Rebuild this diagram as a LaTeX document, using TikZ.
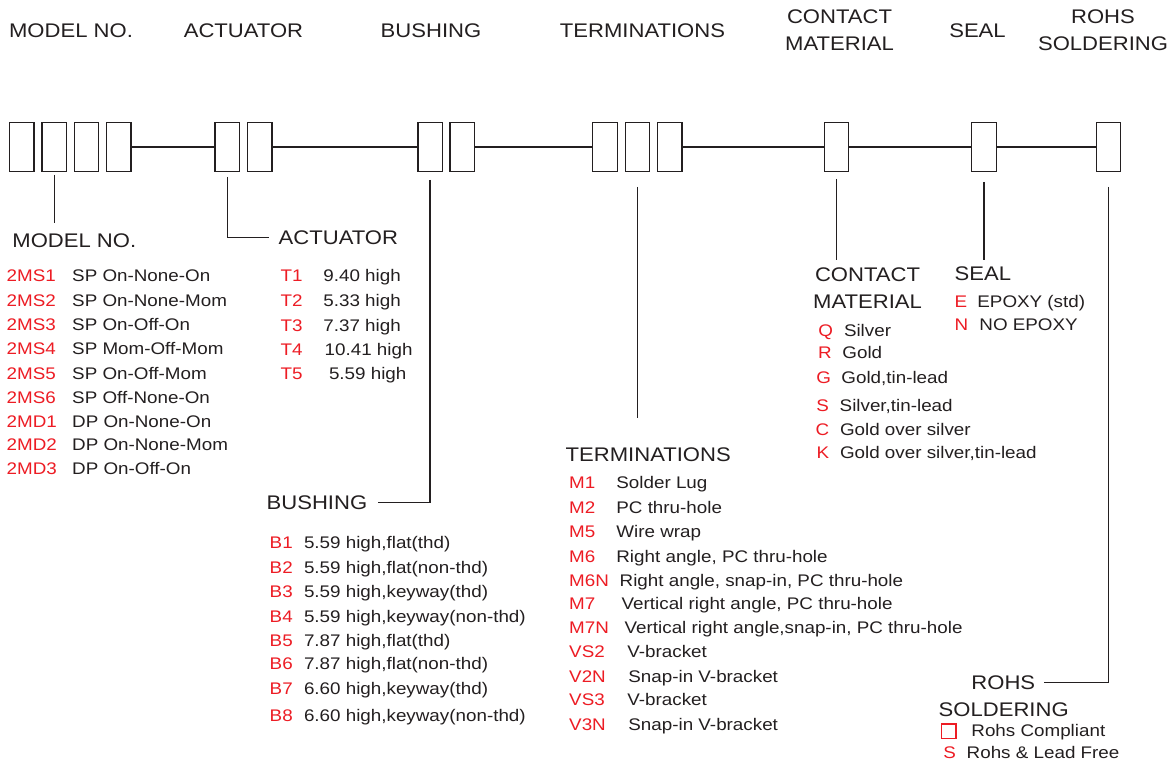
\documentclass[tikz,border=0pt]{standalone}
\usepackage{fontspec}
\setmainfont{Liberation Sans}[FakeStretch=1.12]
\definecolor{ink}{RGB}{35,31,32}
\definecolor{codered}{RGB}{237,28,36}
\tikzset{
  cell/.style={draw, minimum width=24.5pt, minimum height=48.5pt, inner sep=0},
  head/.style={font=\fontsize{19.7pt}{26.6pt}\selectfont, align=center, inner sep=0},
  lbl/.style={font=\fontsize{19.7pt}{26.6pt}\selectfont, anchor=base west, inner sep=0},
  code/.style={font=\fontsize{16.8pt}{20pt}\selectfont, text=codered, anchor=base west, inner sep=0},
  desc/.style={font=\fontsize{16.8pt}{20pt}\selectfont, anchor=base west, inner sep=0}
}
\begin{document}
\begin{tikzpicture}[x=1pt,y=-1pt,line width=1.4pt,color=ink]
  \path[fill=white,use as bounding box] (0,0) rectangle (1174,762);
  % headings
  \node[head] (modelhd) at (71,31) {MODEL NO.};
  \node[head] (acthd) at (243.5,31) {ACTUATOR};
  \node[head] (bushhd) at (431,31) {BUSHING};
  \node[head] (termhd) at (642.5,31) {TERMINATIONS};
  \node[head] (conthd) at (839.5,30) {CONTACT\\MATERIAL};
  \node[head] (sealhd) at (977.5,31) {SEAL};
  \node[head] (rohshd) at (1103,30) {ROHS\\SOLDERING};

  % boxes
  \foreach \x [count=\i] in {21.8,54.2,86.5,118.9}
    \node[cell] (m\i) at (\x,147) {};
  \foreach \x [count=\i] in {227.2,259.7}
    \node[cell] (a\i) at (\x,147) {};
  \foreach \x [count=\i] in {430.1,462.1}
    \node[cell] (b\i) at (\x,147) {};
  \foreach \x [count=\i] in {605,637.5,669.8}
    \node[cell] (t\i) at (\x,147) {};
  \node[cell] (c1) at (836.5,147) {};
  \node[cell] (s1) at (984,147) {};
  \node[cell] (r1) at (1108.5,147) {};
  \draw (m4) -- (a1) (a2) -- (b1) (b2) -- (t1) (t3) -- (c1) (c1) -- (s1) (s1) -- (r1);

  % labels and leaders
  \node[lbl] (modellbl) at (11.7,247) {MODEL NO.};
  \coordinate (mend) at (0,223);
  \draw ([yshift=-3pt]m2.south) -- (m2.south |- mend);

  \node[lbl] (actlbl) at (278,244) {ACTUATOR};
  \draw ([yshift=-5pt]a1.south) |- ([xshift=-9pt]actlbl.west);

  \node[lbl] (bushlbl) at (266,509) {BUSHING};
  \draw ([yshift=-8pt]b1.south) |- ([xshift=10pt]bushlbl.east);

  \node[lbl] (termlbl) at (565,461) {TERMINATIONS};
  \coordinate (tend) at (0,418);
  \draw ([yshift=-15pt]t2.south) -- (t2.south |- tend);

  \node[lbl,anchor=center,align=center] (contlbl) at (867.5,288.3) {CONTACT\\MATERIAL};
  \coordinate (cend) at (0,260);
  \draw ([yshift=-7pt]c1.south) -- (c1.south |- cend);

  \node[lbl] (seallbl) at (954,280) {SEAL};
  \draw ([yshift=-10pt]s1.south) -- (s1.south |- cend);

  \node[lbl,anchor=center] (rohslbl) at (1003.3,682.7) {ROHS};
  \node[lbl,anchor=center] (soldlbl) at (1003.7,710) {SOLDERING};
  \draw ([yshift=-15pt]r1.south) |- ([xshift=8pt]rohslbl.east);

  % model no. list
  \foreach \key/\txt/\y [count=\i] in {2MS1/SP On-None-On/275, 2MS2/SP On-None-Mom/300,
      2MS3/SP On-Off-On/324, 2MS4/SP Mom-Off-Mom/348, 2MS5/SP On-Off-Mom/373,
      2MS6/SP Off-None-On/397, 2MD1/DP On-None-On/421, 2MD2/DP On-None-Mom/444,
      2MD3/DP On-Off-On/468}{
    \node[code] (mcode\i) at (6,\y+6) {\key};
    \node[desc] (mdesc\i) at (71.5,\y+6) {\txt};
  }

  % actuator list
  \foreach \key/\txt/\y/\dx [count=\i] in {T1/9.40 high/275/322.7, T2/5.33 high/300/322.7,
      T3/7.37 high/325/322.7, T4/10.41 high/349/324, T5/5.59 high/373/328.3}{
    \node[code] (acode\i) at (280,\y+6) {\key};
    \node[desc] (adesc\i) at (\dx,\y+6) {\txt};
  }

  % bushing list
  \foreach \key/\txt/\y [count=\i] in {B1/{5.59 high,flat(thd)}/542.7,
      B2/{5.59 high,flat(non-thd)}/567.5, B3/{5.59 high,keyway(thd)}/591.7,
      B4/{5.59 high,keyway(non-thd)}/616, B5/{7.87 high,flat(thd)}/640.5,
      B6/{7.87 high,flat(non-thd)}/663.5, B7/{6.60 high,keyway(thd)}/688.3,
      B8/{6.60 high,keyway(non-thd)}/715}{
    \node[code] (bcode\i) at (269,\y+6) {\key};
    \node[desc] (bdesc\i) at (303.3,\y+6) {\txt};
  }

  % terminations list
  \foreach \key/\txt/\y/\dx [count=\i] in {M1/Solder Lug/482.7/615.7,
      M2/PC thru-hole/507.3/615.7, M5/Wire wrap/531.7/615.7,
      M6/{Right angle, PC thru-hole}/556/615.7,
      M6N/{Right angle, snap-in, PC thru-hole}/580/619,
      M7/{Vertical right angle, PC thru-hole}/603.3/621,
      M7N/{Vertical right angle,snap-in, PC thru-hole}/627.7/624,
      VS2/V-bracket/651.7/626.7, V2N/Snap-in V-bracket/676/627.7,
      VS3/V-bracket/699.3/626.7, V3N/Snap-in V-bracket/724/627.7}{
    \node[code] (tcode\i) at (568.5,\y+6) {\key};
    \node[desc] (tdesc\i) at (\dx,\y+6) {\txt};
  }

  % contact material list
  \foreach \key/\txt/\y/\kx/\dx [count=\i] in {Q/Silver/330/817.7/843.3,
      R/Gold/352.3/817.3/841.7, G/{Gold,tin-lead}/377.7/815.7/840.7,
      S/{Silver,tin-lead}/405/815.7/839, C/Gold over silver/429/815/839.3,
      K/{Gold over silver,tin-lead}/452.3/816/839.3}{
    \node[code] (ccode\i) at (\kx,\y+6) {\key};
    \node[desc] (cdesc\i) at (\dx,\y+6) {\txt};
  }

  % seal list
  \foreach \key/\txt/\y/\dx [count=\i] in {E/{EPOXY (std)}/301.7/976.7, N/NO EPOXY/324/978.7}{
    \node[code] (scode\i) at (954,\y+6) {\key};
    \node[desc] (sdesc\i) at (\dx,\y+6) {\txt};
  }

  % rohs list
  \node[draw=codered,line width=1.3pt,minimum size=14.3pt,inner sep=0] (rcode1) at (948.9,731.2) {};
  \node[desc] (rdesc1) at (970.7,736) {Rohs Compliant};
  \node[code] (rcode2) at (942.7,758.7) {S};
  \node[desc] (rdesc2) at (966,758.7) {Rohs \& Lead Free};
\end{tikzpicture}
\end{document}
